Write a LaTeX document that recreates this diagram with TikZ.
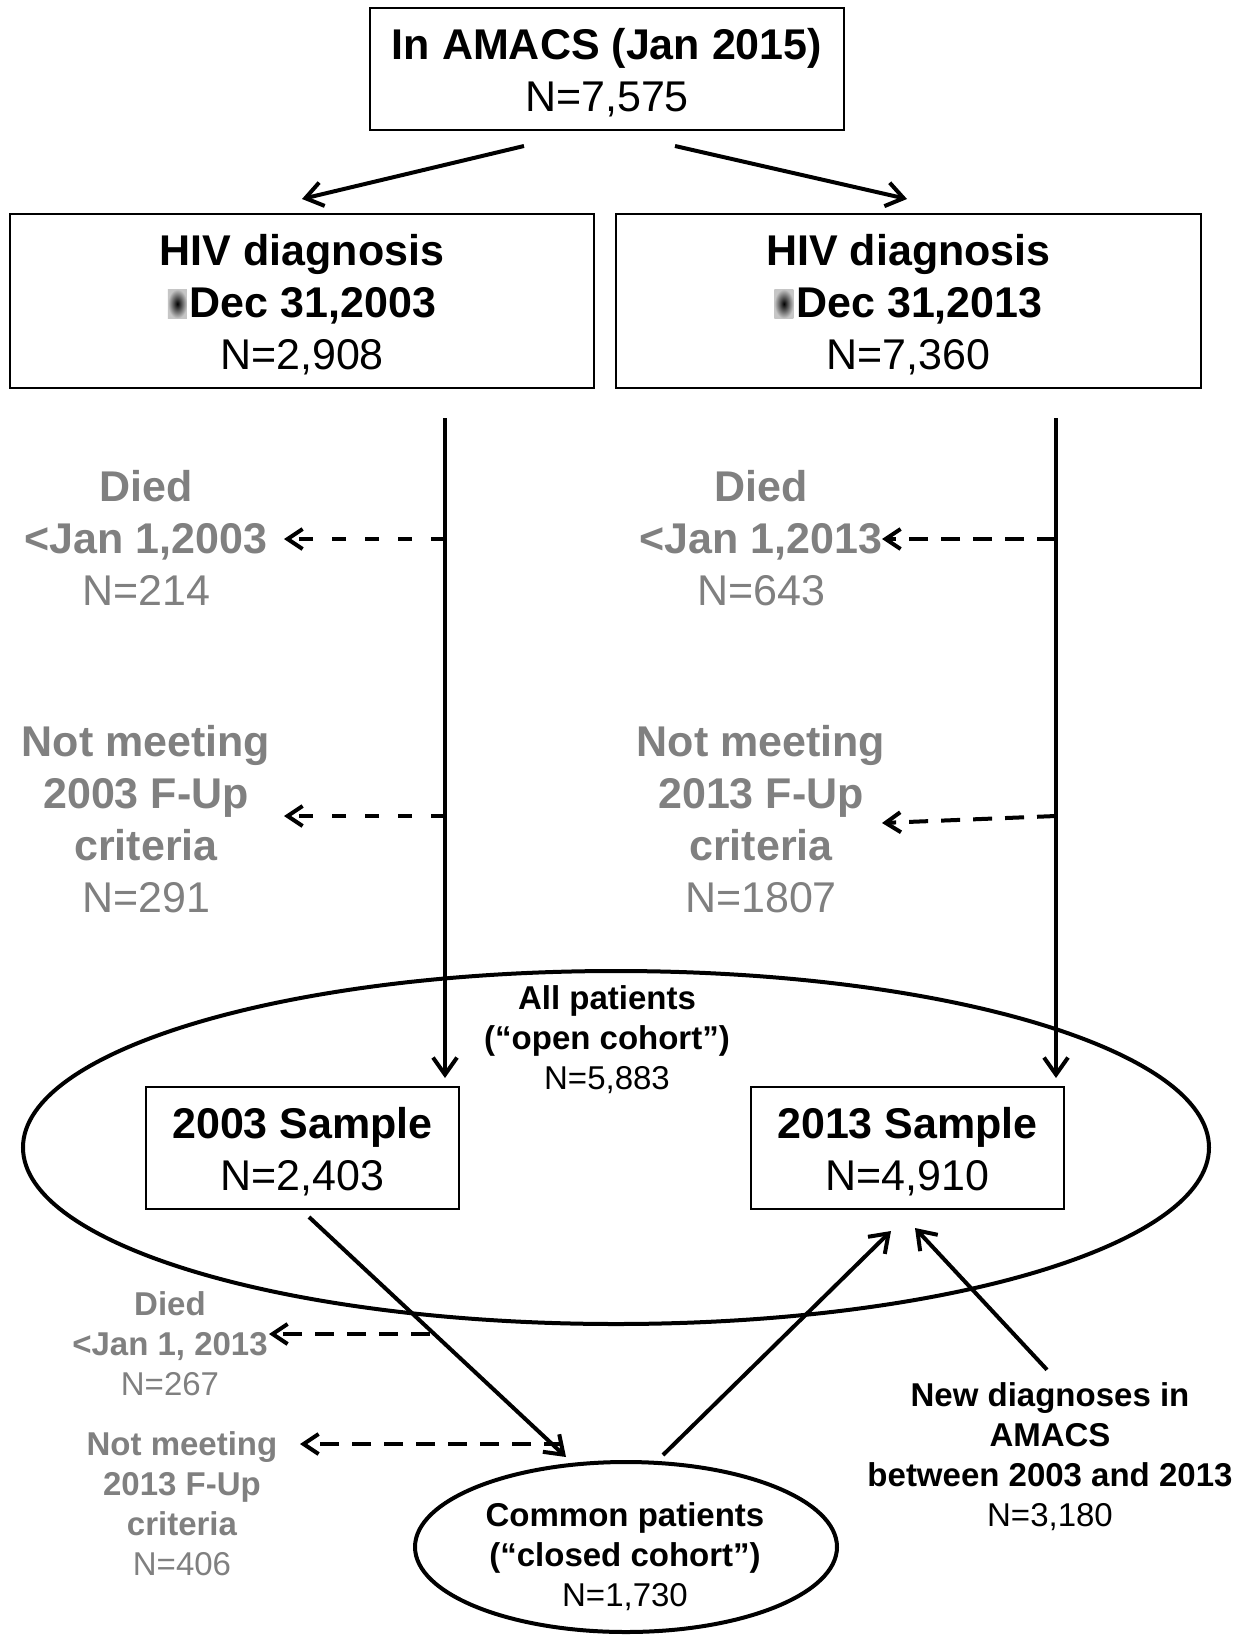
\documentclass[tikz,border=0pt]{standalone}
\usepackage{fontspec}
\setmainfont{Liberation Sans}
\usetikzlibrary{arrows.meta,shapes.geometric,calc}
\definecolor{txtgrey}{RGB}{128,128,128}
\newcommand\lesym{\tikz[baseline=0pt]\shade[inner color=black,outer color=gray!45] (0pt,-1pt) rectangle (19pt,28pt);\hspace{3pt}}
\begin{document}
\begin{tikzpicture}[x=1pt,y=-1pt,
  big/.style={font=\fontsize{43}{52}\selectfont, align=center, inner sep=0pt},
  small/.style={font=\fontsize{33}{40}\selectfont, align=center, inner sep=0pt},
  boxnode/.style={draw, line width=2pt, big},
  arr/.style={line width=4pt, -{Straight Barb[length=17pt,width=24pt]}},
  darr/.style={line width=4pt, dash pattern=on 19pt off 13pt, -{Straight Barb[length=15pt,width=20pt]}},
  darrs/.style={darr, dash pattern=on 14pt off 19pt},
  grey/.style={text=txtgrey},
  ell/.style={draw, ellipse, line width=4pt, inner sep=0pt}]
\useasboundingbox (0,0) rectangle (1256,1635);
\fill[white] (0,0) rectangle (1256,1635);

% boxes
\node[boxnode, minimum width=474pt, minimum height=122pt] (top) at (607,69)
  {{\bfseries \rule{0pt}{38pt}In AMACS (Jan 2015)}\\N=7,575};
\node[boxnode, minimum width=584pt, minimum height=174pt] (hivL) at (302,301)
  {{\bfseries \rule{0pt}{38pt}HIV diagnosis}\\{\bfseries \lesym Dec 31,2003}\\N=2,908};
\node[boxnode, minimum width=585pt, minimum height=174pt] (hivR) at (908.5,301)
  {{\bfseries \rule{0pt}{38pt}HIV diagnosis}\\{\bfseries \lesym Dec 31,2013}\\N=7,360};

% ellipses
\node[ell, minimum width=1186pt, minimum height=353pt] (open) at (616,1147.5) {};
\node[ell, minimum width=422pt, minimum height=170pt] (closed) at (626,1547) {};

\node[boxnode, minimum width=313pt, minimum height=122pt] (sampL) at (302.5,1148)
  {{\bfseries \rule{0pt}{38pt}2003 Sample}\\N=2,403};
\node[boxnode, minimum width=313pt, minimum height=122pt] (sampR) at (907.5,1148)
  {{\bfseries \rule{0pt}{38pt}2013 Sample}\\N=4,910};

% grey exclusion labels
\node[big, grey] (diedL) at (146,538) {{\bfseries Died}\\{\bfseries <Jan 1,2003}\\N=214};
\node[big, grey] (notL) at (146,819) {{\bfseries Not meeting}\\{\bfseries 2003 F-Up}\\{\bfseries criteria}\\N=291};
\node[big, grey] (diedR) at (761,538) {{\bfseries Died}\\{\bfseries <Jan 1,2013}\\N=643};
\node[big, grey] (notR) at (761,819) {{\bfseries Not meeting}\\{\bfseries 2013 F-Up}\\{\bfseries criteria}\\N=1807};

\node[small] (openlbl) at (607,1040) {{\bfseries All patients}\\{\bfseries (“open cohort”)}\\N=5,883};
\node[small] (closedlbl) at (625,1557) {{\bfseries Common patients}\\{\bfseries (“closed cohort”)}\\N=1,730};
\node[small, grey] (died2) at (170,1344) {{\bfseries Died}\\{\bfseries <Jan 1, 2013}\\N=267};
\node[small, grey] (not2) at (182,1504) {{\bfseries Not meeting}\\{\bfseries 2013 F-Up}\\{\bfseries criteria}\\N=406};
\node[small] (newlbl) at (1050,1457) {{\bfseries New diagnoses in}\\{\bfseries AMACS}\\{\bfseries between 2003 and 2013}\\N=3,180};

% coordinates for dashed connectors
\coordinate (bL1) at (445,539);  \coordinate (eL1) at (284,539);
\coordinate (bL2) at (445,816);  \coordinate (eL2) at (284,816);
\coordinate (bR1) at (1056,539); \coordinate (eR1) at (882,539);
\coordinate (bR2) at (1056,816); \coordinate (eR2) at (882,823);
\coordinate (bB1) at (430,1334); \coordinate (eB1) at (269,1334);
\coordinate (bB2) at (563,1444); \coordinate (eB2) at (300,1444);

% solid connectors
\draw[arr] ($(top.south)+(-83,15)$) -- ($(hivL.north)+(0,-14)$);
\draw[arr] ($(top.south)+(68,15)$) -- ($(hivR.north)+(-1.5,-14)$);
\draw[arr] ($(hivL.south)+(143,29)$) -- ($(sampL.north)+(142.5,-8)$);
\draw[arr] ($(hivR.south)+(147.5,29)$) -- ($(sampR.north)+(148.5,-8)$);
\draw[arr] ($(sampL.south)+(6.5,7)$) -- ($(closed.north)+(-60,-3)$);
\draw[arr] ($(closed.north)+(37,-5)$) -- ($(sampR.south)+(-16.5,21)$);
\draw[arr] ($(newlbl.north)+(-3,-13)$) -- ($(sampR.south)+(7.5,18)$);

% dashed connectors
\draw[darrs] (bL1) -- (eL1);
\draw[darrs] (bL2) -- (eL2);
\draw[darr] (bR1) -- (eR1);
\draw[darr] (bR2) -- (eR2);
\draw[darr] (bB1) -- (eB1);
\draw[darr] (bB2) -- (eB2);
\end{tikzpicture}
\end{document}
